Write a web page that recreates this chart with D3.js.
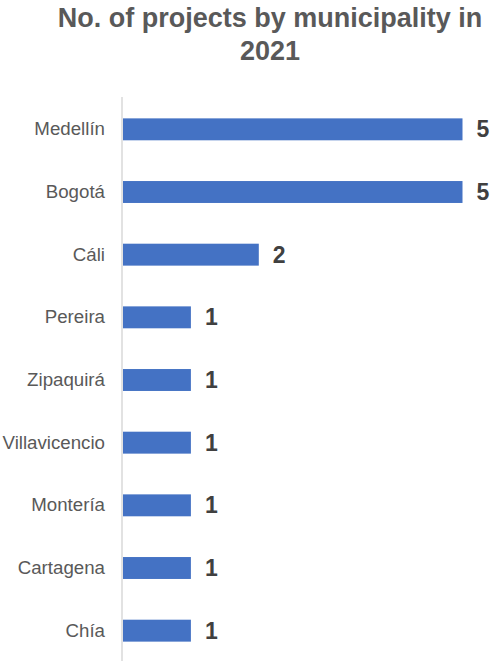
<!DOCTYPE html>
<html>
<head>
<meta charset="utf-8">
<script src="https://cdn.jsdelivr.net/npm/d3@7"></script>
<style>
  body { margin: 0; background: #fff; }
  svg { display: block; font-family: "Liberation Sans", Arial, sans-serif; }
</style>
</head>
<body>
<div id="chart"></div>
<script>
// data
const titleLines = ["No. of projects by municipality in", "2021"];
const municipalities = ["Medellín", "Bogotá", "Cáli", "Pereira", "Zipaquirá", "Villavicencio", "Montería", "Cartagena", "Chía"];
const projects = [5, 5, 2, 1, 1, 1, 1, 1, 1];

const W = 493, H = 661;
const svg = d3.select("#chart").append("svg")
    .attr("width", W)
    .attr("height", H);

// title
svg.append("text")
    .attr("x", 270)
    .attr("y", 27)
    .attr("text-anchor", "middle")
    .style("font-size", "27px")
    .style("font-weight", "bold")
    .style("fill", "#595959")
    .selectAll("tspan")
    .data(titleLines)
    .enter()
    .append("tspan")
    .attr("x", 270)
    .attr("dy", (d, i) => i == 0 ? 0 : 32.5)
    .text(d => d);

// scales
const x = d3.scaleLinear()
    .domain([0, 5])
    .range([123, 462.5]);
const y = d3.scaleBand()
    .domain(municipalities)
    .range([98, 662])
    .paddingInner(0.65)
    .paddingOuter(0.325);

const rows = municipalities.map((m, i) => ({ name: m, value: projects[i] }));

// bars
svg.append("g")
    .selectAll("rect")
    .data(rows)
    .enter()
    .append("rect")
    .attr("x", x(0))
    .attr("y", d => y(d.name))
    .attr("width", d => x(d.value) - x(0))
    .attr("height", y.bandwidth())
    .attr("fill", "#4472C4");

// category axis
const axeY = d3.axisLeft(y).tickSize(0).tickPadding(17);
const gY = svg.append("g")
    .attr("transform", `translate(${x(0) - 1},0)`)
    .call(axeY);
gY.select(".domain")
    .attr("d", `M0,97V${H + 5}`)
    .attr("stroke", "#d9d9d9")
    .attr("stroke-width", 1.5);
gY.selectAll("text")
    .style("font-size", "18.7px")
    .style("font-family", "\"Liberation Sans\", Arial, sans-serif")
    .attr("fill", "#595959");

// value labels
svg.append("g")
    .selectAll("text")
    .data(rows)
    .enter()
    .append("text")
    .attr("x", d => x(d.value) + 14)
    .attr("y", d => y(d.name) + y.bandwidth() / 2)
    .attr("dy", "0.35em")
    .style("font-size", "23px")
    .style("font-weight", "bold")
    .style("fill", "#404040")
    .text(d => d.value);
</script>
</body>
</html>
